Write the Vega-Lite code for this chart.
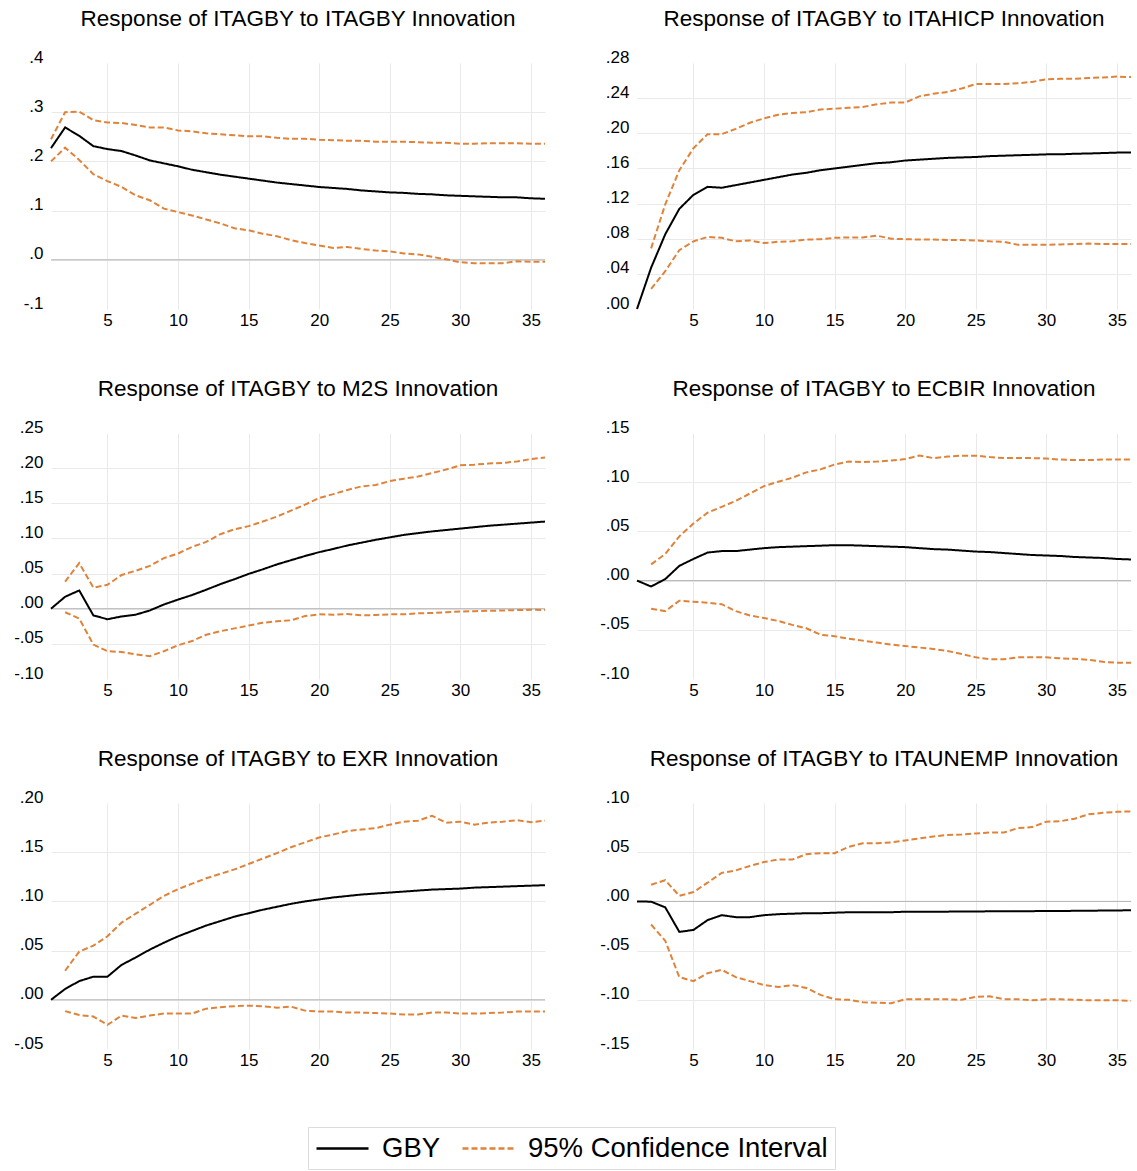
{
  "$schema": "https://vega.github.io/schema/vega-lite/v6.json",
  "padding": {"left": 13, "top": 7, "right": 5, "bottom": 5},
  "datasets": {
    "irf": [
      {"p":"ITAGBY","t":1,"g":0.227,"lo":0.200,"hi":0.245},
      {"p":"ITAGBY","t":2,"g":0.269,"lo":0.228,"hi":0.300},
      {"p":"ITAGBY","t":3,"g":0.252,"lo":0.203,"hi":0.301},
      {"p":"ITAGBY","t":4,"g":0.231,"lo":0.174,"hi":0.284},
      {"p":"ITAGBY","t":5,"g":0.225,"lo":0.160,"hi":0.279},
      {"p":"ITAGBY","t":6,"g":0.221,"lo":0.148,"hi":0.278},
      {"p":"ITAGBY","t":7,"g":0.212,"lo":0.131,"hi":0.274},
      {"p":"ITAGBY","t":8,"g":0.202,"lo":0.121,"hi":0.269},
      {"p":"ITAGBY","t":9,"g":0.196,"lo":0.104,"hi":0.269},
      {"p":"ITAGBY","t":10,"g":0.190,"lo":0.097,"hi":0.263},
      {"p":"ITAGBY","t":11,"g":0.183,"lo":0.090,"hi":0.261},
      {"p":"ITAGBY","t":12,"g":0.178,"lo":0.082,"hi":0.257},
      {"p":"ITAGBY","t":13,"g":0.173,"lo":0.074,"hi":0.255},
      {"p":"ITAGBY","t":14,"g":0.169,"lo":0.064,"hi":0.253},
      {"p":"ITAGBY","t":15,"g":0.165,"lo":0.060,"hi":0.251},
      {"p":"ITAGBY","t":16,"g":0.161,"lo":0.053,"hi":0.251},
      {"p":"ITAGBY","t":17,"g":0.157,"lo":0.048,"hi":0.248},
      {"p":"ITAGBY","t":18,"g":0.154,"lo":0.040,"hi":0.246},
      {"p":"ITAGBY","t":19,"g":0.151,"lo":0.034,"hi":0.246},
      {"p":"ITAGBY","t":20,"g":0.148,"lo":0.029,"hi":0.244},
      {"p":"ITAGBY","t":21,"g":0.146,"lo":0.024,"hi":0.243},
      {"p":"ITAGBY","t":22,"g":0.144,"lo":0.026,"hi":0.242},
      {"p":"ITAGBY","t":23,"g":0.141,"lo":0.022,"hi":0.242},
      {"p":"ITAGBY","t":24,"g":0.139,"lo":0.019,"hi":0.240},
      {"p":"ITAGBY","t":25,"g":0.137,"lo":0.017,"hi":0.240},
      {"p":"ITAGBY","t":26,"g":0.136,"lo":0.013,"hi":0.240},
      {"p":"ITAGBY","t":27,"g":0.134,"lo":0.011,"hi":0.239},
      {"p":"ITAGBY","t":28,"g":0.133,"lo":0.006,"hi":0.238},
      {"p":"ITAGBY","t":29,"g":0.131,"lo":0.001,"hi":0.238},
      {"p":"ITAGBY","t":30,"g":0.130,"lo":-0.005,"hi":0.236},
      {"p":"ITAGBY","t":31,"g":0.129,"lo":-0.007,"hi":0.236},
      {"p":"ITAGBY","t":32,"g":0.128,"lo":-0.007,"hi":0.237},
      {"p":"ITAGBY","t":33,"g":0.127,"lo":-0.007,"hi":0.237},
      {"p":"ITAGBY","t":34,"g":0.127,"lo":-0.003,"hi":0.237},
      {"p":"ITAGBY","t":35,"g":0.125,"lo":-0.004,"hi":0.236},
      {"p":"ITAGBY","t":36,"g":0.124,"lo":-0.004,"hi":0.236},

      {"p":"ITAHICP","t":1,"g":0.000,"lo":null,"hi":null},
      {"p":"ITAHICP","t":2,"g":0.047,"lo":0.023,"hi":0.069},
      {"p":"ITAHICP","t":3,"g":0.085,"lo":0.043,"hi":0.119},
      {"p":"ITAHICP","t":4,"g":0.114,"lo":0.067,"hi":0.158},
      {"p":"ITAHICP","t":5,"g":0.130,"lo":0.077,"hi":0.183},
      {"p":"ITAHICP","t":6,"g":0.139,"lo":0.082,"hi":0.199},
      {"p":"ITAHICP","t":7,"g":0.138,"lo":0.081,"hi":0.199},
      {"p":"ITAHICP","t":8,"g":0.141,"lo":0.077,"hi":0.205},
      {"p":"ITAHICP","t":9,"g":0.144,"lo":0.078,"hi":0.212},
      {"p":"ITAHICP","t":10,"g":0.147,"lo":0.075,"hi":0.217},
      {"p":"ITAHICP","t":11,"g":0.150,"lo":0.0765,"hi":0.221},
      {"p":"ITAHICP","t":12,"g":0.153,"lo":0.077,"hi":0.223},
      {"p":"ITAHICP","t":13,"g":0.155,"lo":0.079,"hi":0.224},
      {"p":"ITAHICP","t":14,"g":0.158,"lo":0.0795,"hi":0.227},
      {"p":"ITAHICP","t":15,"g":0.160,"lo":0.081,"hi":0.228},
      {"p":"ITAHICP","t":16,"g":0.162,"lo":0.0815,"hi":0.229},
      {"p":"ITAHICP","t":17,"g":0.164,"lo":0.0815,"hi":0.230},
      {"p":"ITAHICP","t":18,"g":0.166,"lo":0.0835,"hi":0.233},
      {"p":"ITAHICP","t":19,"g":0.167,"lo":0.080,"hi":0.235},
      {"p":"ITAHICP","t":20,"g":0.169,"lo":0.0795,"hi":0.235},
      {"p":"ITAHICP","t":21,"g":0.170,"lo":0.079,"hi":0.242},
      {"p":"ITAHICP","t":22,"g":0.171,"lo":0.079,"hi":0.245},
      {"p":"ITAHICP","t":23,"g":0.172,"lo":0.0785,"hi":0.247},
      {"p":"ITAHICP","t":24,"g":0.1725,"lo":0.0785,"hi":0.251},
      {"p":"ITAHICP","t":25,"g":0.173,"lo":0.078,"hi":0.256},
      {"p":"ITAHICP","t":26,"g":0.174,"lo":0.077,"hi":0.256},
      {"p":"ITAHICP","t":27,"g":0.1745,"lo":0.0765,"hi":0.256},
      {"p":"ITAHICP","t":28,"g":0.175,"lo":0.073,"hi":0.257},
      {"p":"ITAHICP","t":29,"g":0.1755,"lo":0.073,"hi":0.2585},
      {"p":"ITAHICP","t":30,"g":0.176,"lo":0.073,"hi":0.2615},
      {"p":"ITAHICP","t":31,"g":0.176,"lo":0.0735,"hi":0.262},
      {"p":"ITAHICP","t":32,"g":0.1767,"lo":0.074,"hi":0.262},
      {"p":"ITAHICP","t":33,"g":0.177,"lo":0.0745,"hi":0.263},
      {"p":"ITAHICP","t":34,"g":0.1775,"lo":0.074,"hi":0.2635},
      {"p":"ITAHICP","t":35,"g":0.178,"lo":0.074,"hi":0.2645},
      {"p":"ITAHICP","t":36,"g":0.178,"lo":0.074,"hi":0.264},

      {"p":"M2S","t":1,"g":0.000,"lo":null,"hi":null},
      {"p":"M2S","t":2,"g":0.017,"lo":-0.005,"hi":0.0385},
      {"p":"M2S","t":3,"g":0.026,"lo":-0.014,"hi":0.065},
      {"p":"M2S","t":4,"g":-0.0095,"lo":-0.051,"hi":0.030},
      {"p":"M2S","t":5,"g":-0.015,"lo":-0.0605,"hi":0.034},
      {"p":"M2S","t":6,"g":-0.011,"lo":-0.0615,"hi":0.048},
      {"p":"M2S","t":7,"g":-0.0085,"lo":-0.065,"hi":0.054},
      {"p":"M2S","t":8,"g":-0.0025,"lo":-0.0675,"hi":0.061},
      {"p":"M2S","t":9,"g":0.006,"lo":-0.0605,"hi":0.072},
      {"p":"M2S","t":10,"g":0.013,"lo":-0.052,"hi":0.0785},
      {"p":"M2S","t":11,"g":0.0195,"lo":-0.046,"hi":0.088},
      {"p":"M2S","t":12,"g":0.027,"lo":-0.037,"hi":0.095},
      {"p":"M2S","t":13,"g":0.035,"lo":-0.032,"hi":0.106},
      {"p":"M2S","t":14,"g":0.042,"lo":-0.028,"hi":0.113},
      {"p":"M2S","t":15,"g":0.0495,"lo":-0.024,"hi":0.1175},
      {"p":"M2S","t":16,"g":0.056,"lo":-0.020,"hi":0.124},
      {"p":"M2S","t":17,"g":0.063,"lo":-0.018,"hi":0.131},
      {"p":"M2S","t":18,"g":0.069,"lo":-0.0165,"hi":0.1395},
      {"p":"M2S","t":19,"g":0.075,"lo":-0.0105,"hi":0.148},
      {"p":"M2S","t":20,"g":0.0805,"lo":-0.008,"hi":0.1575},
      {"p":"M2S","t":21,"g":0.085,"lo":-0.0085,"hi":0.163},
      {"p":"M2S","t":22,"g":0.090,"lo":-0.0075,"hi":0.169},
      {"p":"M2S","t":23,"g":0.094,"lo":-0.0095,"hi":0.174},
      {"p":"M2S","t":24,"g":0.098,"lo":-0.009,"hi":0.176},
      {"p":"M2S","t":25,"g":0.1015,"lo":-0.008,"hi":0.1815},
      {"p":"M2S","t":26,"g":0.105,"lo":-0.008,"hi":0.185},
      {"p":"M2S","t":27,"g":0.1075,"lo":-0.0065,"hi":0.188},
      {"p":"M2S","t":28,"g":0.110,"lo":-0.006,"hi":0.193},
      {"p":"M2S","t":29,"g":0.112,"lo":-0.005,"hi":0.198},
      {"p":"M2S","t":30,"g":0.114,"lo":-0.004,"hi":0.204},
      {"p":"M2S","t":31,"g":0.116,"lo":-0.0035,"hi":0.205},
      {"p":"M2S","t":32,"g":0.118,"lo":-0.003,"hi":0.2065},
      {"p":"M2S","t":33,"g":0.1195,"lo":-0.0025,"hi":0.2075},
      {"p":"M2S","t":34,"g":0.121,"lo":-0.002,"hi":0.2095},
      {"p":"M2S","t":35,"g":0.1225,"lo":-0.0015,"hi":0.213},
      {"p":"M2S","t":36,"g":0.124,"lo":-0.002,"hi":0.215},

      {"p":"ECBIR","t":1,"g":0.000,"lo":null,"hi":null},
      {"p":"ECBIR","t":2,"g":-0.006,"lo":-0.0285,"hi":0.0165},
      {"p":"ECBIR","t":3,"g":0.0015,"lo":-0.031,"hi":0.027},
      {"p":"ECBIR","t":4,"g":0.015,"lo":-0.0205,"hi":0.045},
      {"p":"ECBIR","t":5,"g":0.022,"lo":-0.0215,"hi":0.058},
      {"p":"ECBIR","t":6,"g":0.0285,"lo":-0.0225,"hi":0.069},
      {"p":"ECBIR","t":7,"g":0.030,"lo":-0.024,"hi":0.075},
      {"p":"ECBIR","t":8,"g":0.030,"lo":-0.031,"hi":0.081},
      {"p":"ECBIR","t":9,"g":0.0315,"lo":-0.0355,"hi":0.0885},
      {"p":"ECBIR","t":10,"g":0.033,"lo":-0.038,"hi":0.096},
      {"p":"ECBIR","t":11,"g":0.034,"lo":-0.041,"hi":0.1005},
      {"p":"ECBIR","t":12,"g":0.0345,"lo":-0.045,"hi":0.1045},
      {"p":"ECBIR","t":13,"g":0.035,"lo":-0.0485,"hi":0.110},
      {"p":"ECBIR","t":14,"g":0.0355,"lo":-0.055,"hi":0.113},
      {"p":"ECBIR","t":15,"g":0.036,"lo":-0.0565,"hi":0.118},
      {"p":"ECBIR","t":16,"g":0.036,"lo":-0.059,"hi":0.121},
      {"p":"ECBIR","t":17,"g":0.0355,"lo":-0.061,"hi":0.1205},
      {"p":"ECBIR","t":18,"g":0.035,"lo":-0.063,"hi":0.121},
      {"p":"ECBIR","t":19,"g":0.0345,"lo":-0.065,"hi":0.122},
      {"p":"ECBIR","t":20,"g":0.034,"lo":-0.0665,"hi":0.1235},
      {"p":"ECBIR","t":21,"g":0.033,"lo":-0.068,"hi":0.127},
      {"p":"ECBIR","t":22,"g":0.032,"lo":-0.0695,"hi":0.1245},
      {"p":"ECBIR","t":23,"g":0.0315,"lo":-0.0715,"hi":0.126},
      {"p":"ECBIR","t":24,"g":0.0305,"lo":-0.0745,"hi":0.127},
      {"p":"ECBIR","t":25,"g":0.0295,"lo":-0.078,"hi":0.127},
      {"p":"ECBIR","t":26,"g":0.029,"lo":-0.080,"hi":0.1255},
      {"p":"ECBIR","t":27,"g":0.028,"lo":-0.080,"hi":0.1245},
      {"p":"ECBIR","t":28,"g":0.027,"lo":-0.078,"hi":0.1245},
      {"p":"ECBIR","t":29,"g":0.026,"lo":-0.078,"hi":0.1245},
      {"p":"ECBIR","t":30,"g":0.0255,"lo":-0.078,"hi":0.124},
      {"p":"ECBIR","t":31,"g":0.025,"lo":-0.079,"hi":0.123},
      {"p":"ECBIR","t":32,"g":0.024,"lo":-0.0795,"hi":0.1225},
      {"p":"ECBIR","t":33,"g":0.0235,"lo":-0.0805,"hi":0.1225},
      {"p":"ECBIR","t":34,"g":0.023,"lo":-0.0825,"hi":0.123},
      {"p":"ECBIR","t":35,"g":0.022,"lo":-0.0835,"hi":0.123},
      {"p":"ECBIR","t":36,"g":0.0215,"lo":-0.0835,"hi":0.123},

      {"p":"EXR","t":1,"g":0.000,"lo":null,"hi":null},
      {"p":"EXR","t":2,"g":0.011,"lo":-0.0115,"hi":0.0295},
      {"p":"EXR","t":3,"g":0.019,"lo":-0.0155,"hi":0.049},
      {"p":"EXR","t":4,"g":0.0235,"lo":-0.017,"hi":0.055},
      {"p":"EXR","t":5,"g":0.0235,"lo":-0.0255,"hi":0.0645},
      {"p":"EXR","t":6,"g":0.0355,"lo":-0.016,"hi":0.0785},
      {"p":"EXR","t":7,"g":0.043,"lo":-0.0185,"hi":0.0875},
      {"p":"EXR","t":8,"g":0.051,"lo":-0.016,"hi":0.0965},
      {"p":"EXR","t":9,"g":0.058,"lo":-0.014,"hi":0.1055},
      {"p":"EXR","t":10,"g":0.0645,"lo":-0.014,"hi":0.1125},
      {"p":"EXR","t":11,"g":0.070,"lo":-0.014,"hi":0.118},
      {"p":"EXR","t":12,"g":0.0755,"lo":-0.009,"hi":0.1235},
      {"p":"EXR","t":13,"g":0.080,"lo":-0.0075,"hi":0.128},
      {"p":"EXR","t":14,"g":0.0845,"lo":-0.0065,"hi":0.1325},
      {"p":"EXR","t":15,"g":0.088,"lo":-0.006,"hi":0.138},
      {"p":"EXR","t":16,"g":0.0915,"lo":-0.0065,"hi":0.1435},
      {"p":"EXR","t":17,"g":0.0945,"lo":-0.008,"hi":0.149},
      {"p":"EXR","t":18,"g":0.0975,"lo":-0.007,"hi":0.155},
      {"p":"EXR","t":19,"g":0.100,"lo":-0.011,"hi":0.160},
      {"p":"EXR","t":20,"g":0.102,"lo":-0.012,"hi":0.165},
      {"p":"EXR","t":21,"g":0.104,"lo":-0.012,"hi":0.168},
      {"p":"EXR","t":22,"g":0.1055,"lo":-0.013,"hi":0.1715},
      {"p":"EXR","t":23,"g":0.107,"lo":-0.013,"hi":0.173},
      {"p":"EXR","t":24,"g":0.108,"lo":-0.0135,"hi":0.1745},
      {"p":"EXR","t":25,"g":0.109,"lo":-0.014,"hi":0.178},
      {"p":"EXR","t":26,"g":0.110,"lo":-0.015,"hi":0.181},
      {"p":"EXR","t":27,"g":0.111,"lo":-0.015,"hi":0.182},
      {"p":"EXR","t":28,"g":0.112,"lo":-0.013,"hi":0.187},
      {"p":"EXR","t":29,"g":0.1125,"lo":-0.013,"hi":0.180},
      {"p":"EXR","t":30,"g":0.113,"lo":-0.014,"hi":0.181},
      {"p":"EXR","t":31,"g":0.114,"lo":-0.014,"hi":0.178},
      {"p":"EXR","t":32,"g":0.1145,"lo":-0.0135,"hi":0.180},
      {"p":"EXR","t":33,"g":0.115,"lo":-0.013,"hi":0.181},
      {"p":"EXR","t":34,"g":0.1155,"lo":-0.012,"hi":0.1825},
      {"p":"EXR","t":35,"g":0.116,"lo":-0.012,"hi":0.1805},
      {"p":"EXR","t":36,"g":0.1165,"lo":-0.012,"hi":0.182},

      {"p":"ITAUNEMP","t":1,"g":0.000,"lo":null,"hi":null},
      {"p":"ITAUNEMP","t":2,"g":-0.0003,"lo":-0.0235,"hi":0.017},
      {"p":"ITAUNEMP","t":3,"g":-0.006,"lo":-0.040,"hi":0.0215},
      {"p":"ITAUNEMP","t":4,"g":-0.031,"lo":-0.077,"hi":0.0057},
      {"p":"ITAUNEMP","t":5,"g":-0.029,"lo":-0.081,"hi":0.0095},
      {"p":"ITAUNEMP","t":6,"g":-0.019,"lo":-0.073,"hi":0.019},
      {"p":"ITAUNEMP","t":7,"g":-0.014,"lo":-0.0695,"hi":0.029},
      {"p":"ITAUNEMP","t":8,"g":-0.016,"lo":-0.077,"hi":0.0315},
      {"p":"ITAUNEMP","t":9,"g":-0.016,"lo":-0.081,"hi":0.036},
      {"p":"ITAUNEMP","t":10,"g":-0.014,"lo":-0.085,"hi":0.040},
      {"p":"ITAUNEMP","t":11,"g":-0.013,"lo":-0.087,"hi":0.0425},
      {"p":"ITAUNEMP","t":12,"g":-0.0125,"lo":-0.085,"hi":0.0425},
      {"p":"ITAUNEMP","t":13,"g":-0.012,"lo":-0.088,"hi":0.048},
      {"p":"ITAUNEMP","t":14,"g":-0.012,"lo":-0.095,"hi":0.049},
      {"p":"ITAUNEMP","t":15,"g":-0.0115,"lo":-0.0995,"hi":0.049},
      {"p":"ITAUNEMP","t":16,"g":-0.011,"lo":-0.100,"hi":0.0555},
      {"p":"ITAUNEMP","t":17,"g":-0.011,"lo":-0.1025,"hi":0.059},
      {"p":"ITAUNEMP","t":18,"g":-0.011,"lo":-0.103,"hi":0.059},
      {"p":"ITAUNEMP","t":19,"g":-0.011,"lo":-0.1035,"hi":0.060},
      {"p":"ITAUNEMP","t":20,"g":-0.0105,"lo":-0.0995,"hi":0.062},
      {"p":"ITAUNEMP","t":21,"g":-0.0105,"lo":-0.0995,"hi":0.064},
      {"p":"ITAUNEMP","t":22,"g":-0.0105,"lo":-0.0995,"hi":0.066},
      {"p":"ITAUNEMP","t":23,"g":-0.0104,"lo":-0.0995,"hi":0.0675},
      {"p":"ITAUNEMP","t":24,"g":-0.0103,"lo":-0.100,"hi":0.068},
      {"p":"ITAUNEMP","t":25,"g":-0.0102,"lo":-0.097,"hi":0.069},
      {"p":"ITAUNEMP","t":26,"g":-0.0101,"lo":-0.0965,"hi":0.070},
      {"p":"ITAUNEMP","t":27,"g":-0.0100,"lo":-0.0995,"hi":0.070},
      {"p":"ITAUNEMP","t":28,"g":-0.0100,"lo":-0.0995,"hi":0.0745},
      {"p":"ITAUNEMP","t":29,"g":-0.0099,"lo":-0.1005,"hi":0.0755},
      {"p":"ITAUNEMP","t":30,"g":-0.0098,"lo":-0.0995,"hi":0.081},
      {"p":"ITAUNEMP","t":31,"g":-0.0097,"lo":-0.0995,"hi":0.0815},
      {"p":"ITAUNEMP","t":32,"g":-0.0096,"lo":-0.100,"hi":0.084},
      {"p":"ITAUNEMP","t":33,"g":-0.0095,"lo":-0.1005,"hi":0.0885},
      {"p":"ITAUNEMP","t":34,"g":-0.0093,"lo":-0.1005,"hi":0.090},
      {"p":"ITAUNEMP","t":35,"g":-0.0092,"lo":-0.1005,"hi":0.091},
      {"p":"ITAUNEMP","t":36,"g":-0.0090,"lo":-0.101,"hi":0.0915}
    ]
  },
  "columns": 2,
  "spacing": {"row": 124, "column": 92},
  "bounds": "flush",
  "align": "all",
  "resolve": {"scale": {"color": "shared", "strokeDash": "shared"}, "legend": {"color": "shared", "strokeDash": "shared"}},
  "concat": [
    {
      "title": "Response of ITAGBY to ITAGBY Innovation",
      "width": 494, "height": 246,
      "layer": [
        {"data": {"values": [{"z": 0}]}, "mark": {"type": "rule", "color": "#b3b3b3", "strokeWidth": 1},
         "encoding": {"y": {"field": "z", "type": "quantitative", "title": null}}},
        {"data": {"name": "irf"}, "transform": [{"filter": "datum.p == 'ITAGBY'"}],
         "mark": {"type": "line", "strokeWidth": 2},
         "encoding": {
           "x": {"field": "t", "type": "quantitative", "title": null, "scale": {"domain": [1, 36], "nice": false}, "axis": {"values": [5, 10, 15, 20, 25, 30, 35], "grid": true}},
           "y": {"field": "g", "type": "quantitative", "title": null, "scale": {"domain": [-0.1, 0.4], "nice": false, "zero": false},
                 "axis": {"values": [-0.1, 0, 0.1, 0.2, 0.3, 0.4], "tickCount": 20, "labelOverlap": false, "labelExpr": "(datum.value < 0 ? '-' : '') + replace(format(abs(datum.value), '.1f'), '0.', '.')",
                          "gridOpacity": {"condition": {"test": "datum.index == 0 || datum.index == 1", "value": 0}, "value": 1}}},
           "color": {"datum": "GBY", "scale": {"domain": ["GBY", "95% Confidence Interval"], "range": ["#000000", "#E0833A"]}, "legend": {"title": null}},
           "strokeDash": {"datum": "GBY", "scale": {"domain": ["GBY", "95% Confidence Interval"], "range": [[1, 0], [6, 3]]}, "legend": {"title": null}}
         }},
        {"data": {"name": "irf"}, "transform": [{"filter": "datum.p == 'ITAGBY'"}, {"fold": ["lo", "hi"], "as": ["bound", "v"]}],
         "mark": {"type": "line", "strokeWidth": 2},
         "encoding": {
           "x": {"field": "t", "type": "quantitative", "title": null, "scale": {"domain": [1, 36], "nice": false}, "axis": {"values": [5, 10, 15, 20, 25, 30, 35], "grid": true}},
           "y": {"field": "v", "type": "quantitative", "title": null},
           "detail": {"field": "bound"},
           "color": {"datum": "95% Confidence Interval", "scale": {"domain": ["GBY", "95% Confidence Interval"], "range": ["#000000", "#E0833A"]}, "legend": {"title": null}},
           "strokeDash": {"datum": "95% Confidence Interval", "scale": {"domain": ["GBY", "95% Confidence Interval"], "range": [[1, 0], [6, 3]]}, "legend": {"title": null}}
         }}
      ]
    },
    {
      "title": "Response of ITAGBY to ITAHICP Innovation",
      "width": 494, "height": 246,
      "layer": [
        {"data": {"name": "irf"}, "transform": [{"filter": "datum.p == 'ITAHICP'"}],
         "mark": {"type": "line", "strokeWidth": 2},
         "encoding": {
           "x": {"field": "t", "type": "quantitative", "title": null, "scale": {"domain": [1, 36], "nice": false}, "axis": {"values": [5, 10, 15, 20, 25, 30, 35], "grid": true}},
           "y": {"field": "g", "type": "quantitative", "title": null, "scale": {"domain": [0, 0.28], "nice": false, "zero": false},
                 "axis": {"values": [0, 0.04, 0.08, 0.12, 0.16, 0.2, 0.24, 0.28], "tickCount": 20, "labelOverlap": false, "labelExpr": "(datum.value < 0 ? '-' : '') + replace(format(abs(datum.value), '.2f'), '0.', '.')",
                          "gridOpacity": {"condition": {"test": "datum.index == 0 || datum.index == 1", "value": 0}, "value": 1}}},
           "color": {"datum": "GBY", "scale": {"domain": ["GBY", "95% Confidence Interval"], "range": ["#000000", "#E0833A"]}, "legend": {"title": null}},
           "strokeDash": {"datum": "GBY", "scale": {"domain": ["GBY", "95% Confidence Interval"], "range": [[1, 0], [6, 3]]}, "legend": {"title": null}}
         }},
        {"data": {"name": "irf"}, "transform": [{"filter": "datum.p == 'ITAHICP'"}, {"fold": ["lo", "hi"], "as": ["bound", "v"]}],
         "mark": {"type": "line", "strokeWidth": 2},
         "encoding": {
           "x": {"field": "t", "type": "quantitative", "title": null, "scale": {"domain": [1, 36], "nice": false}, "axis": {"values": [5, 10, 15, 20, 25, 30, 35], "grid": true}},
           "y": {"field": "v", "type": "quantitative", "title": null},
           "detail": {"field": "bound"},
           "color": {"datum": "95% Confidence Interval", "scale": {"domain": ["GBY", "95% Confidence Interval"], "range": ["#000000", "#E0833A"]}, "legend": {"title": null}},
           "strokeDash": {"datum": "95% Confidence Interval", "scale": {"domain": ["GBY", "95% Confidence Interval"], "range": [[1, 0], [6, 3]]}, "legend": {"title": null}}
         }}
      ]
    },
    {
      "title": "Response of ITAGBY to M2S Innovation",
      "width": 494, "height": 246,
      "layer": [
        {"data": {"values": [{"z": 0}]}, "mark": {"type": "rule", "color": "#b3b3b3", "strokeWidth": 1},
         "encoding": {"y": {"field": "z", "type": "quantitative", "title": null}}},
        {"data": {"name": "irf"}, "transform": [{"filter": "datum.p == 'M2S'"}],
         "mark": {"type": "line", "strokeWidth": 2},
         "encoding": {
           "x": {"field": "t", "type": "quantitative", "title": null, "scale": {"domain": [1, 36], "nice": false}, "axis": {"values": [5, 10, 15, 20, 25, 30, 35], "grid": true}},
           "y": {"field": "g", "type": "quantitative", "title": null, "scale": {"domain": [-0.1, 0.25], "nice": false, "zero": false},
                 "axis": {"values": [-0.1, -0.05, 0, 0.05, 0.1, 0.15, 0.2, 0.25], "tickCount": 20, "labelOverlap": false, "labelExpr": "(datum.value < 0 ? '-' : '') + replace(format(abs(datum.value), '.2f'), '0.', '.')",
                          "gridOpacity": {"condition": {"test": "datum.index == 0 || datum.index == 1", "value": 0}, "value": 1}}},
           "color": {"datum": "GBY", "scale": {"domain": ["GBY", "95% Confidence Interval"], "range": ["#000000", "#E0833A"]}, "legend": {"title": null}},
           "strokeDash": {"datum": "GBY", "scale": {"domain": ["GBY", "95% Confidence Interval"], "range": [[1, 0], [6, 3]]}, "legend": {"title": null}}
         }},
        {"data": {"name": "irf"}, "transform": [{"filter": "datum.p == 'M2S'"}, {"fold": ["lo", "hi"], "as": ["bound", "v"]}],
         "mark": {"type": "line", "strokeWidth": 2},
         "encoding": {
           "x": {"field": "t", "type": "quantitative", "title": null, "scale": {"domain": [1, 36], "nice": false}, "axis": {"values": [5, 10, 15, 20, 25, 30, 35], "grid": true}},
           "y": {"field": "v", "type": "quantitative", "title": null},
           "detail": {"field": "bound"},
           "color": {"datum": "95% Confidence Interval", "scale": {"domain": ["GBY", "95% Confidence Interval"], "range": ["#000000", "#E0833A"]}, "legend": {"title": null}},
           "strokeDash": {"datum": "95% Confidence Interval", "scale": {"domain": ["GBY", "95% Confidence Interval"], "range": [[1, 0], [6, 3]]}, "legend": {"title": null}}
         }}
      ]
    },
    {
      "title": "Response of ITAGBY to ECBIR Innovation",
      "width": 494, "height": 246,
      "layer": [
        {"data": {"values": [{"z": 0}]}, "mark": {"type": "rule", "color": "#b3b3b3", "strokeWidth": 1},
         "encoding": {"y": {"field": "z", "type": "quantitative", "title": null}}},
        {"data": {"name": "irf"}, "transform": [{"filter": "datum.p == 'ECBIR'"}],
         "mark": {"type": "line", "strokeWidth": 2},
         "encoding": {
           "x": {"field": "t", "type": "quantitative", "title": null, "scale": {"domain": [1, 36], "nice": false}, "axis": {"values": [5, 10, 15, 20, 25, 30, 35], "grid": true}},
           "y": {"field": "g", "type": "quantitative", "title": null, "scale": {"domain": [-0.1, 0.15], "nice": false, "zero": false},
                 "axis": {"values": [-0.1, -0.05, 0, 0.05, 0.1, 0.15], "tickCount": 20, "labelOverlap": false, "labelExpr": "(datum.value < 0 ? '-' : '') + replace(format(abs(datum.value), '.2f'), '0.', '.')",
                          "gridOpacity": {"condition": {"test": "datum.index == 0 || datum.index == 1", "value": 0}, "value": 1}}},
           "color": {"datum": "GBY", "scale": {"domain": ["GBY", "95% Confidence Interval"], "range": ["#000000", "#E0833A"]}, "legend": {"title": null}},
           "strokeDash": {"datum": "GBY", "scale": {"domain": ["GBY", "95% Confidence Interval"], "range": [[1, 0], [6, 3]]}, "legend": {"title": null}}
         }},
        {"data": {"name": "irf"}, "transform": [{"filter": "datum.p == 'ECBIR'"}, {"fold": ["lo", "hi"], "as": ["bound", "v"]}],
         "mark": {"type": "line", "strokeWidth": 2},
         "encoding": {
           "x": {"field": "t", "type": "quantitative", "title": null, "scale": {"domain": [1, 36], "nice": false}, "axis": {"values": [5, 10, 15, 20, 25, 30, 35], "grid": true}},
           "y": {"field": "v", "type": "quantitative", "title": null},
           "detail": {"field": "bound"},
           "color": {"datum": "95% Confidence Interval", "scale": {"domain": ["GBY", "95% Confidence Interval"], "range": ["#000000", "#E0833A"]}, "legend": {"title": null}},
           "strokeDash": {"datum": "95% Confidence Interval", "scale": {"domain": ["GBY", "95% Confidence Interval"], "range": [[1, 0], [6, 3]]}, "legend": {"title": null}}
         }}
      ]
    },
    {
      "title": "Response of ITAGBY to EXR Innovation",
      "width": 494, "height": 246,
      "layer": [
        {"data": {"values": [{"z": 0}]}, "mark": {"type": "rule", "color": "#b3b3b3", "strokeWidth": 1},
         "encoding": {"y": {"field": "z", "type": "quantitative", "title": null}}},
        {"data": {"name": "irf"}, "transform": [{"filter": "datum.p == 'EXR'"}],
         "mark": {"type": "line", "strokeWidth": 2},
         "encoding": {
           "x": {"field": "t", "type": "quantitative", "title": null, "scale": {"domain": [1, 36], "nice": false}, "axis": {"values": [5, 10, 15, 20, 25, 30, 35], "grid": true}},
           "y": {"field": "g", "type": "quantitative", "title": null, "scale": {"domain": [-0.05, 0.2], "nice": false, "zero": false},
                 "axis": {"values": [-0.05, 0, 0.05, 0.1, 0.15, 0.2], "tickCount": 20, "labelOverlap": false, "labelExpr": "(datum.value < 0 ? '-' : '') + replace(format(abs(datum.value), '.2f'), '0.', '.')",
                          "gridOpacity": {"condition": {"test": "datum.index == 0 || datum.index == 1", "value": 0}, "value": 1}}},
           "color": {"datum": "GBY", "scale": {"domain": ["GBY", "95% Confidence Interval"], "range": ["#000000", "#E0833A"]}, "legend": {"title": null}},
           "strokeDash": {"datum": "GBY", "scale": {"domain": ["GBY", "95% Confidence Interval"], "range": [[1, 0], [6, 3]]}, "legend": {"title": null}}
         }},
        {"data": {"name": "irf"}, "transform": [{"filter": "datum.p == 'EXR'"}, {"fold": ["lo", "hi"], "as": ["bound", "v"]}],
         "mark": {"type": "line", "strokeWidth": 2},
         "encoding": {
           "x": {"field": "t", "type": "quantitative", "title": null, "scale": {"domain": [1, 36], "nice": false}, "axis": {"values": [5, 10, 15, 20, 25, 30, 35], "grid": true}},
           "y": {"field": "v", "type": "quantitative", "title": null},
           "detail": {"field": "bound"},
           "color": {"datum": "95% Confidence Interval", "scale": {"domain": ["GBY", "95% Confidence Interval"], "range": ["#000000", "#E0833A"]}, "legend": {"title": null}},
           "strokeDash": {"datum": "95% Confidence Interval", "scale": {"domain": ["GBY", "95% Confidence Interval"], "range": [[1, 0], [6, 3]]}, "legend": {"title": null}}
         }}
      ]
    },
    {
      "title": "Response of ITAGBY to ITAUNEMP Innovation",
      "width": 494, "height": 246,
      "layer": [
        {"data": {"values": [{"z": 0}]}, "mark": {"type": "rule", "color": "#b3b3b3", "strokeWidth": 1},
         "encoding": {"y": {"field": "z", "type": "quantitative", "title": null}}},
        {"data": {"name": "irf"}, "transform": [{"filter": "datum.p == 'ITAUNEMP'"}],
         "mark": {"type": "line", "strokeWidth": 2},
         "encoding": {
           "x": {"field": "t", "type": "quantitative", "title": null, "scale": {"domain": [1, 36], "nice": false}, "axis": {"values": [5, 10, 15, 20, 25, 30, 35], "grid": true}},
           "y": {"field": "g", "type": "quantitative", "title": null, "scale": {"domain": [-0.15, 0.1], "nice": false, "zero": false},
                 "axis": {"values": [-0.15, -0.1, -0.05, 0, 0.05, 0.1], "tickCount": 20, "labelOverlap": false, "labelExpr": "(datum.value < 0 ? '-' : '') + replace(format(abs(datum.value), '.2f'), '0.', '.')",
                          "gridOpacity": {"condition": {"test": "datum.index == 0 || datum.index == 1", "value": 0}, "value": 1}}},
           "color": {"datum": "GBY", "scale": {"domain": ["GBY", "95% Confidence Interval"], "range": ["#000000", "#E0833A"]}, "legend": {"title": null}},
           "strokeDash": {"datum": "GBY", "scale": {"domain": ["GBY", "95% Confidence Interval"], "range": [[1, 0], [6, 3]]}, "legend": {"title": null}}
         }},
        {"data": {"name": "irf"}, "transform": [{"filter": "datum.p == 'ITAUNEMP'"}, {"fold": ["lo", "hi"], "as": ["bound", "v"]}],
         "mark": {"type": "line", "strokeWidth": 2},
         "encoding": {
           "x": {"field": "t", "type": "quantitative", "title": null, "scale": {"domain": [1, 36], "nice": false}, "axis": {"values": [5, 10, 15, 20, 25, 30, 35], "grid": true}},
           "y": {"field": "v", "type": "quantitative", "title": null},
           "detail": {"field": "bound"},
           "color": {"datum": "95% Confidence Interval", "scale": {"domain": ["GBY", "95% Confidence Interval"], "range": ["#000000", "#E0833A"]}, "legend": {"title": null}},
           "strokeDash": {"datum": "95% Confidence Interval", "scale": {"domain": ["GBY", "95% Confidence Interval"], "range": [[1, 0], [6, 3]]}, "legend": {"title": null}}
         }}
      ]
    }
  ],
  "config": {
    "font": "Liberation Sans",
    "view": {"stroke": null},
    "title": {"fontSize": 22.5, "fontWeight": "normal", "color": "#000000", "anchor": "middle", "frame": "group", "offset": 18},
    "axis": {"domain": false, "ticks": false, "labelFontSize": 17, "labelColor": "#000000", "gridColor": "#e9e9e9", "gridWidth": 1, "labelOverlap": false},
    "axisY": {"labelBaseline": "alphabetic", "labelPadding": 8, "labelOffset": -1},
    "axisX": {"labelPadding": 3},
    "legend": {
      "orient": "none", "legendX": 257, "legendY": 1064, "direction": "horizontal",
      "symbolType": "M-1,0H3", "symbolSize": 676, "symbolStrokeWidth": 2.5, "symbolFillColor": "transparent",
      "labelFontSize": 27.5, "labelColor": "#000000", "labelLimit": 400, "labelOffset": 38,
      "columnPadding": 16, "padding": 7, "strokeColor": "#dcdcdc", "fillColor": "#ffffff"
    }
  }
}
